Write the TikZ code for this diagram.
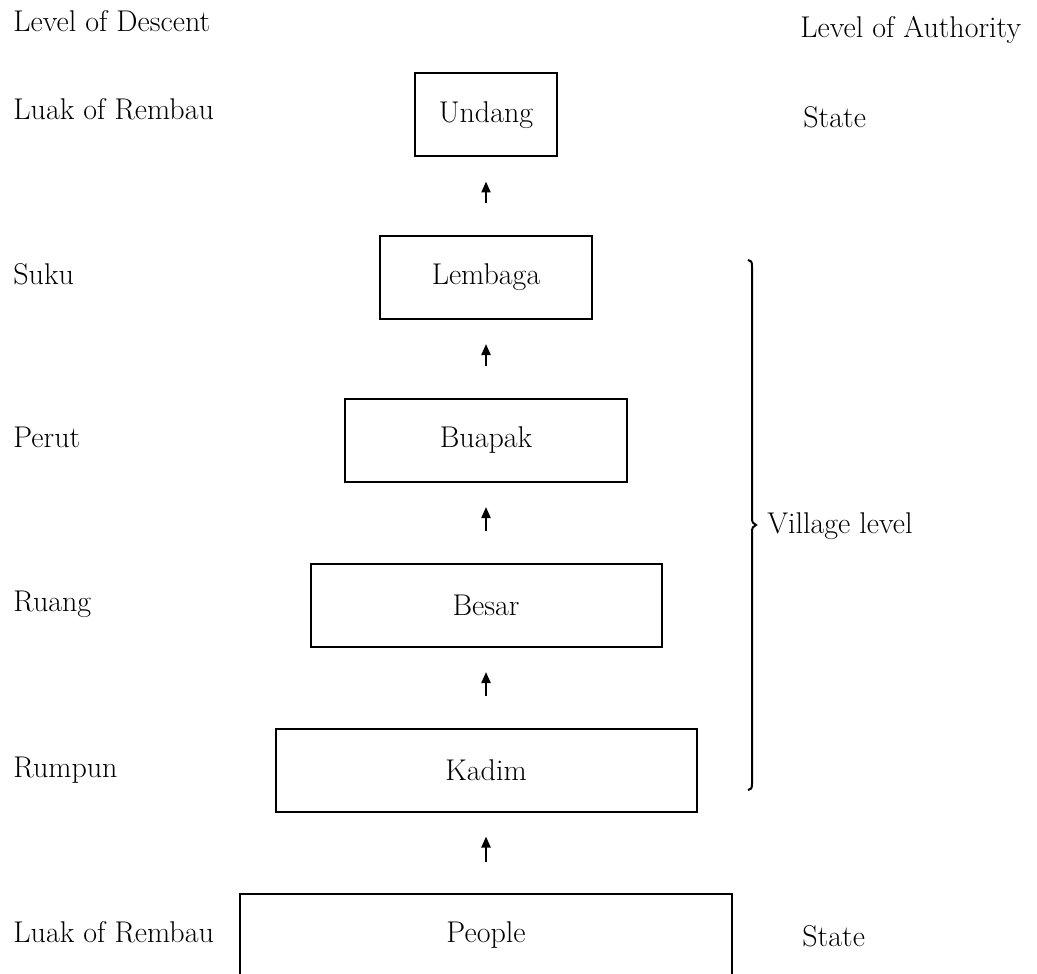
\documentclass[tikz,border=0pt]{standalone}
\usetikzlibrary{arrows.meta}
\begin{document}
\begin{tikzpicture}[x=0.5pt,y=-0.5pt,
  lbl/.style={anchor=base west,inner sep=0pt,font=\fontsize{15}{18}\selectfont},
  boxnode/.style={draw,line width=1pt,minimum height=41.5pt,inner sep=0pt,font=\fontsize{15}{18}\selectfont},
  uparrow/.style={line width=1.1pt,-{Triangle[width=4.5pt,length=5.5pt]},shorten <=16pt,shorten >=12pt}]
\useasboundingbox (0,0) rectangle (1037,973);
% headings
\node[lbl] (hdesc) at (13,32) {Level of Descent};
\node[lbl] (hauth) at (800,38) {Level of Authority};
% boxes
\node[boxnode,minimum width=71pt] (undang) at (486,115) {Undang};
\node[boxnode,minimum width=106pt] (lembaga) at (486,277.5) {Lembaga};
\node[boxnode,minimum width=141pt] (buapak) at (486,440.5) {Buapak};
\node[boxnode,minimum width=175.5pt] (besar) at (486,605.5) {Besar};
\node[boxnode,minimum width=210.5pt] (kadim) at (486,770) {Kadim};
\node[boxnode,draw=none,minimum width=245pt,minimum height=40pt] (people) at (486,935) {People};
\draw[line width=1pt] (people.south west) -- (people.north west) -- (people.north east) -- (people.south east);
% arrows
\draw[uparrow] (lembaga.north) -- (undang.south);
\draw[uparrow] (buapak.north) -- (lembaga.south);
\draw[uparrow] (besar.north) -- (buapak.south);
\draw[uparrow] (kadim.north) -- (besar.south);
\draw[uparrow] (people.north) -- (kadim.south);
% left labels
\node[lbl] (l1) at (13,120) {Luak of Rembau};
\node[lbl] (l2) at (13,284) {Suku};
\node[lbl] (l3) at (13,447) {Perut};
\node[lbl] (l4) at (13,611) {Ruang};
\node[lbl] (l5) at (13,777) {Rumpun};
\node[lbl] (l6) at (13,942) {Luak of Rembau};
% right labels
\node[lbl] (r1) at (803,128) {State};
\node[lbl] (r2) at (802,946) {State};
\node[lbl] (village) at (767,533) {Village level};
% brace
\draw[line width=1pt] (748,260) .. controls (751,260) and (752,262) .. (752,266)
  -- (752,518) .. controls (752,522) and (753,524) .. (756,525)
  .. controls (753,526) and (752,528) .. (752,532)
  -- (752,784) .. controls (752,788) and (751,790) .. (748,790);
\end{tikzpicture}
\end{document}
